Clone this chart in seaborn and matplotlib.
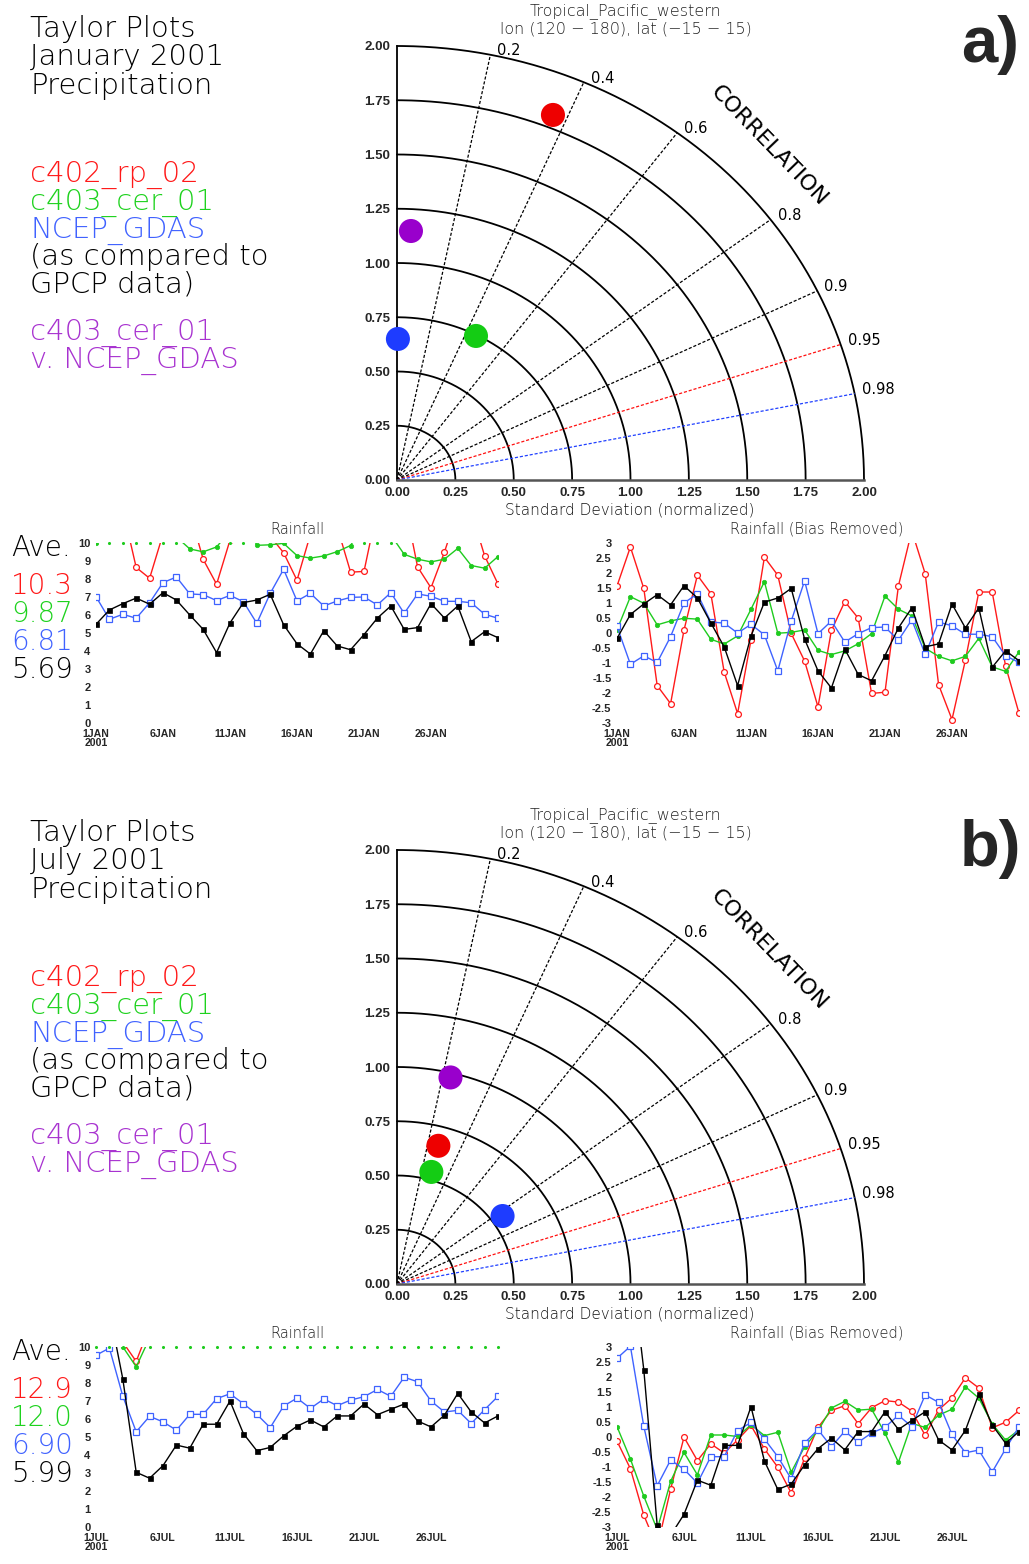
import numpy as np
import pandas as pd
import matplotlib
matplotlib.use("Agg")
import matplotlib.pyplot as plt
import seaborn as sns

sns.set_style("white")
plt.rcParams["font.family"] = ["DejaVu Sans"]

W, H = 1029, 1564
OFF = 804  # vertical pixel offset of panel b

days = list(range(1, 32))

# ---------------- January 2001 daily rainfall ----------------
jan_c402_rp_02 = [11.96, 13.26, 11.88, 8.64, 8.04, 10.49, 12.32, 11.71, 9.09, 7.71, 10.16,
                  12.92, 12.32, 10.38, 9.46, 7.93, 10.48, 11.44, 10.89, 8.38, 8.42, 11.96,
                  13.80, 12.37, 8.67, 7.51, 9.49, 11.76, 11.76, 9.29, 7.72]
jan_c403_cer_01 = [9.98, 11.09, 10.87, 10.15, 10.28, 10.37, 10.34, 9.67, 9.51, 9.78, 10.67,
                   11.59, 9.87, 9.90, 9.98, 9.30, 9.16, 9.28, 9.52, 9.86, 11.11, 10.67,
                   10.45, 9.37, 9.10, 8.95, 9.10, 9.70, 8.75, 8.60, 9.25]
jan_ncep_gdas = [7.02, 5.76, 6.04, 5.82, 6.68, 7.80, 8.11, 7.17, 7.13, 6.80, 7.09, 6.74,
                 5.54, 7.20, 8.54, 6.78, 7.20, 6.50, 6.78, 6.98, 7.00, 6.56, 7.24, 6.09,
                 7.17, 7.04, 6.76, 6.76, 6.68, 6.04, 5.82]
jan_gpcp = [5.48, 6.28, 6.63, 6.94, 6.60, 7.24, 6.83, 6.00, 5.20, 3.91, 5.56, 6.69, 6.83,
            7.15, 5.46, 4.40, 3.83, 5.13, 4.28, 4.07, 4.91, 5.83, 6.50, 5.20, 5.30, 6.63,
            5.83, 6.50, 4.52, 5.07, 4.74]
jan_ave = ["10.3", "9.87", "6.81", "5.69"]
jan_ticks = ["1JAN\n2001", "6JAN", "11JAN", "16JAN", "21JAN", "26JAN"]

# ---------------- July 2001 daily rainfall ----------------
jul_c402_rp_02 = [12.74, 11.82, 10.27, 9.20, 11.13, 12.87, 12.09, 12.65, 12.34, 12.78, 13.26,
                  12.48, 11.87, 11.01, 12.17, 13.20, 13.76, 13.92, 13.32, 13.85, 14.09, 14.04,
                  13.74, 12.93, 13.78, 14.18, 14.85, 14.51, 13.18, 13.37, 13.76]
jul_c403_cer_01 = [12.33, 11.25, 10.01, 8.90, 10.50, 11.47, 10.72, 12.05, 12.05, 12.00, 12.39,
                   12.03, 12.14, 10.81, 11.66, 12.19, 12.95, 13.17, 12.88, 12.91, 12.11, 11.14,
                   12.44, 12.30, 12.71, 12.91, 13.66, 13.28, 12.42, 11.88, 12.22]
jul_ncep_gdas = [9.54, 9.94, 7.27, 5.29, 6.15, 5.84, 5.38, 6.26, 6.26, 7.13, 7.40, 6.85,
                 6.26, 5.52, 6.72, 7.16, 6.59, 7.11, 6.74, 7.05, 7.24, 7.64, 7.26, 8.32,
                 8.07, 7.00, 6.39, 6.48, 5.75, 6.52, 7.26]
jul_gpcp = [10.70, 12.00, 8.23, 3.04, 2.71, 3.41, 4.55, 4.38, 5.71, 5.71, 7.00, 5.19, 4.24,
            4.42, 5.06, 5.60, 5.95, 5.56, 6.17, 6.17, 6.83, 6.24, 6.54, 6.83, 5.89, 5.56,
            6.21, 7.42, 6.39, 5.78, 6.17]
jul_ave = ["12.9", "12.0", "6.90", "5.99"]
jul_ticks = ["1JUL\n2001", "6JUL", "11JUL", "16JUL", "21JUL", "26JUL"]
tick_days = [1, 6, 11, 16, 21, 26]

# ---------------- Taylor diagram statistics ----------------
taylor_models = ["c402_rp_02", "c403_cer_01", "NCEP_GDAS", "c403_cer_01 v. NCEP_GDAS"]
jan_std = [1.810, 0.745, 0.650, 1.149]
jan_corr = [0.369, 0.454, 0.006, 0.052]
jul_std = [0.661, 0.537, 0.550, 0.979]
jul_corr = [0.268, 0.274, 0.822, 0.234]
std_ticks = [0.0, 0.25, 0.5, 0.75, 1.0, 1.25, 1.5, 1.75, 2.0]
corr_ticks = [0.2, 0.4, 0.6, 0.8, 0.9, 0.95, 0.98]

# colours
RED, GREEN, BLUE, BLACK = "#ff1a1a", "#1ecb1e", "#3f63ff", "#000000"
RED_T, GREEN_T, BLUE_T, PURPLE_T, DARK_T = "#ff1818", "#1ed21e", "#4062ff", "#a832d0", "#000000"
taylor_colors = ["#ee0000", "#14cc14", "#1e3cff", "#9900cc"]
corr_colors = ["black", "black", "black", "black", "black", "#ff1010", "#2040ff"]

TXT = dict(family=["DejaVu Sans"], fontweight="light")
TICKF = dict(family=["Liberation Sans Narrow", "Liberation Sans"], fontweight="bold")

fig = plt.figure(figsize=(W / 100, H / 100), dpi=100)


def px_axes(x0, y0, x1, y1):
    return fig.add_axes([x0 / W, 1 - y1 / H, (x1 - x0) / W, (y1 - y0) / H])


def ftext(x, y, s, **kw):
    fig.text(x / W, 1 - y / H, s, **kw)


series_styles = [
    dict(color=RED, marker="o", markersize=4.2, markerfacecolor="white",
         markeredgecolor=RED, markeredgewidth=0.9),
    dict(color=GREEN, marker="o", markersize=3.2, markerfacecolor=GREEN,
         markeredgecolor=GREEN, markeredgewidth=0.5),
    dict(color=BLUE, marker="s", markersize=4.6, markerfacecolor="white",
         markeredgecolor=BLUE, markeredgewidth=0.9),
    dict(color=BLACK, marker="s", markersize=3.6, markerfacecolor=BLACK,
         markeredgecolor=BLACK, markeredgewidth=0.5),
]


def style_ts(ax, ylim, yticks, ylabels, xlabels):
    ax.set_xlim(1, 31)
    ax.set_ylim(*ylim)
    for s in ax.spines.values():
        s.set_visible(False)
    ax.set_xticks(tick_days, labels=xlabels, fontsize=7.6, linespacing=0.95, **TICKF)
    ax.set_yticks(yticks, labels=ylabels, fontsize=8, **TICKF)
    ax.tick_params(axis="both", direction="out", length=3, width=0.8, color="black", pad=1)
    ax.set_xlabel("")
    ax.set_ylabel("")
    ax.grid(False)


def ts_panels(off, series, xlabels):
    # raw rainfall panel
    ax = px_axes(96, 543 + off, 498, 723 + off)
    for vals, st in zip(series, series_styles):
        sns.lineplot(x=days, y=vals, ax=ax, linewidth=1.0, sort=False, errorbar=None,
                     legend=False, zorder=3, **st)
    green = np.array(series[1])
    over = green > 10
    sns.scatterplot(x=np.array(days)[over], y=np.minimum(green, 10)[over], ax=ax,
                    color=GREEN, s=5, linewidth=0, legend=False, clip_on=False, zorder=4)
    style_ts(ax, (0, 10), list(range(0, 11)), [str(i) for i in range(0, 11)], xlabels)
    ftext(297, 529 + off, "Rainfall", fontsize=10.5, color="#222222", ha="center",
          va="center", **TXT)

    # bias removed panel
    ax2 = px_axes(617, 543 + off, 1019, 723 + off)
    for vals, st in zip(series, series_styles):
        v = np.array(vals)
        sns.lineplot(x=days, y=v - v.mean(), ax=ax2, linewidth=1.0, sort=False,
                     errorbar=None, legend=False, zorder=3, **st)
    yt = list(np.arange(-3, 3.01, 0.5))
    style_ts(ax2, (-3, 3), yt, [f"{t:g}" for t in yt], xlabels)
    ftext(817, 529 + off, "Rainfall (Bias Removed)", fontsize=10.5, color="#222222",
          ha="center", va="center", **TXT)


def taylor(off, std, corr):
    ax = px_axes(397, 46 + off, 864, 480 + off)
    ax.set_xlim(0, 2)
    ax.set_ylim(0, 2)
    th = np.linspace(0, np.pi / 2, 400)
    for r in std_ticks[1:]:
        ax.plot(r * np.cos(th), r * np.sin(th), color="black", lw=1.3, zorder=2, clip_on=False)
    for c, col in zip(corr_ticks, corr_colors):
        a = np.arccos(c)
        ax.plot([0, 2 * np.cos(a)], [0, 2 * np.sin(a)], color=col, lw=0.9,
                ls=(0, (2.5, 1.5)), zorder=2, clip_on=False)
        ax.annotate(f"{c:g}", xy=(2 * np.cos(a), 2 * np.sin(a)), xytext=(5, 3),
                    textcoords="offset points", ha="left", va="center", fontsize=10.5,
                    color="black", annotation_clip=False, family=["DejaVu Sans"])
    s = np.array(std)
    c = np.array(corr)
    df = pd.DataFrame({"x": s * c, "y": s * np.sqrt(1 - c ** 2), "model": taylor_models})
    sns.scatterplot(data=df, x="x", y="y", hue="model",
                    palette=dict(zip(taylor_models, taylor_colors)), s=300, linewidth=0,
                    legend=False, ax=ax, zorder=5, clip_on=False)
    ax.set_xticks(std_ticks, labels=[f"{t:.2f}" for t in std_ticks], fontsize=9.5, **TICKF)
    ax.set_yticks(std_ticks, labels=[f"{t:.2f}" for t in std_ticks], fontsize=9.5, **TICKF)
    ax.tick_params(direction="out", length=4, width=1, pad=1)
    ax.set_xlabel("")
    ax.set_ylabel("")
    ax.grid(False)
    for sp in ["top", "right"]:
        ax.spines[sp].set_visible(False)
    ax.spines["left"].set_color("black")
    ax.spines["left"].set_linewidth(1.3)
    ax.spines["bottom"].set_color("#555555")
    ax.spines["bottom"].set_linewidth(1.8)
    ax.patch.set_alpha(0)
    ftext(630, 510 + off, "Standard Deviation (normalized)", fontsize=11, color="#111111",
          ha="center", va="center", **TXT)
    ftext(626, 11 + off, "Tropical_Pacific_western", fontsize=11.5, color="#222222",
          ha="center", va="center", **TXT)
    ftext(626, 29 + off, "lon (120 \u2212 180), lat (\u221215 \u2212 15)", fontsize=11.5,
          color="#222222", ha="center", va="center", **TXT)
    ftext(769, 146 + off, "CORRELATION", fontsize=16, color="black", ha="center",
          va="center", rotation=-46, rotation_mode="anchor", family=["DejaVu Sans"])


def left_text(off, month, ave):
    for i, line in enumerate(["Taylor Plots", month, "Precipitation"]):
        ftext(30, 37 + off + 28.3 * i, line, fontsize=21, color=DARK_T, va="baseline", **TXT)
    legend = [("c402_rp_02", RED_T, 182), ("c403_cer_01", GREEN_T, 210),
              ("NCEP_GDAS", BLUE_T, 238), ("(as compared to", DARK_T, 265),
              ("GPCP data)", DARK_T, 293), ("c403_cer_01", PURPLE_T, 340),
              ("v. NCEP_GDAS", PURPLE_T, 368)]
    for txt, col, yb in legend:
        ftext(30, yb + off, txt, fontsize=21, color=col, va="baseline", **TXT)
    ftext(11, 556 + off, "Ave.", fontsize=20, color=DARK_T, va="baseline", **TXT)
    for txt, col, yb in zip(ave, [RED_T, GREEN_T, BLUE_T, DARK_T], [594, 622, 650, 678]):
        ftext(11, yb + off, txt, fontsize=20, color=col, va="baseline", **TXT)


# ---------------- panel a: January ----------------
left_text(0, "January 2001", jan_ave)
taylor(0, jan_std, jan_corr)
ts_panels(0, [jan_c402_rp_02, jan_c403_cer_01, jan_ncep_gdas, jan_gpcp], jan_ticks)
ftext(990, 45, "a)", fontsize=47, fontweight="bold", family=["Liberation Sans"],
      ha="center", va="center")

# ---------------- panel b: July ----------------
left_text(OFF, "July 2001", jul_ave)
taylor(OFF, jul_std, jul_corr)
ts_panels(OFF, [jul_c402_rp_02, jul_c403_cer_01, jul_ncep_gdas, jul_gpcp], jul_ticks)
ftext(990, 45 + OFF, "b)", fontsize=47, fontweight="bold", family=["Liberation Sans"],
      ha="center", va="center")

fig.savefig("out.png", dpi=100, facecolor="white")
